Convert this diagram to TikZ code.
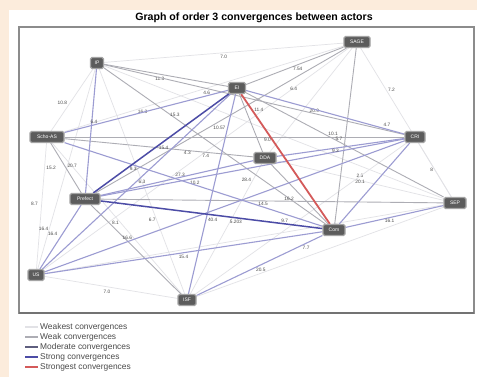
\documentclass[tikz,border=0pt]{standalone}
\usepackage{fontspec}
\setmainfont{Liberation Sans}
\definecolor{peach}{HTML}{FCECDC}
\definecolor{cweakest}{HTML}{E2E2E6}
\definecolor{cweak}{HTML}{ADADB4}
\definecolor{cmod}{HTML}{9C9CD2}
\definecolor{cstrong}{HTML}{4C4CA6}
\definecolor{cred}{HTML}{D45A5A}
\definecolor{nodefill}{HTML}{5C5C5C}
\definecolor{nodeedge}{HTML}{A4A4A4}
\definecolor{lbltext}{HTML}{4A4A4A}
\pgfdeclarelayer{back}
\pgfdeclarelayer{edges}
\pgfsetlayers{back,edges,main}
\tikzset{
  actor/.style={draw=nodeedge, line width=1.1pt, fill=nodefill, rounded corners=1.5pt,
    text=white, font=\fontsize{5}{5}\selectfont, minimum height=11pt, inner sep=1pt},
  weakest/.style={draw=cweakest, line width=0.7pt},
  weak/.style={draw=cweak, line width=0.9pt},
  moderate/.style={draw=cmod, line width=1.1pt},
  strong/.style={draw=cstrong, line width=1.5pt},
  strongest/.style={draw=cred, line width=1.8pt},
  lbl/.style={font=\fontsize{4.8}{5}\selectfont, text=lbltext, inner sep=0.6pt},
  legtext/.style={font=\fontsize{8.4}{9}\selectfont, text=lbltext, anchor=west, inner sep=0pt},
  legline/.style={line width=1.8pt},
}
\begin{document}
\begin{tikzpicture}[x=1pt,y=-1pt]
\useasboundingbox (0,0) rectangle (477,377);
\begin{pgfonlayer}{back}
\fill[peach] (0,0) rectangle (477,377);
\fill[white] (9,10) rectangle (477,377);
\draw[draw=black!45, line width=1.3pt] (19,27) rectangle (474,313);
\draw[draw=black!55, line width=1.2pt] (19,313) -- (474,313);
\end{pgfonlayer}

\node[font=\bfseries\fontsize{10.6}{11}\selectfont, inner sep=0pt] (title) at (254,18) {Graph of order 3 convergences between actors};

% actors
\node[actor, minimum width=13pt] (n1) at (97,63) {IP};
\node[actor, minimum width=17pt] (n2) at (237,88) {EI};
\node[actor, minimum width=26pt] (n3) at (357,42) {SAGE};
\node[actor, minimum width=34pt] (n4) at (47,137) {Scho-AS};
\node[actor, minimum width=20pt] (n5) at (415,137) {CRI};
\node[actor, minimum width=22pt] (n6) at (265,158) {DDA};
\node[actor, minimum width=30pt] (n7) at (85,199) {Prefect};
\node[actor, minimum width=22pt] (n8) at (455,203) {SEP};
\node[actor, minimum width=22pt] (n9) at (334,230) {Com};
\node[actor, minimum width=16pt] (n10) at (36,275) {US};
\node[actor, minimum width=18pt] (n11) at (187,300) {ISF};

\begin{pgfonlayer}{edges}
% weakest
\draw[weakest] (n1) -- node[lbl, pos=.5, below=1pt]{7.0} (n3);
\draw[weakest] (n1) -- node[lbl, pos=.55, left=2pt]{10.8} (n4);
\draw[weakest] (n4) -- node[lbl, pos=.2, right=1pt]{15.2} node[lbl, pos=.48, left=3pt]{8.7} (n10);
\draw[weakest] (n10) -- node[lbl, pos=.47, below=2pt]{7.0} (n11);
\draw[weakest] (n3) -- node[lbl, pos=.28, right=1pt]{7.2} (n8);
\draw[weakest] (n5) -- node[lbl, pos=.5, left=1pt]{8} (n8);
\draw[weakest] (n1) -- node[lbl, pos=.8, left=0pt]{16.4} (n10);
\draw[weakest] (n4) -- node[lbl, pos=.28, below=2pt]{16.3} (n3);
\draw[weakest] (n10) -- node[lbl, pos=.53, below=1pt]{7.4} (n3);
\draw[weakest] (n1) -- node[lbl, pos=.67, left=0pt]{6.7} (n11);
\draw[weakest] (n6) -- node[lbl, pos=.12, left=1pt]{28.4} (n11);
\draw[weakest] (n6) -- node[lbl, pos=.5, above=2pt]{2.3} node[lbl, pos=.5, above=-4pt]{20.1} (n8);
\draw[weakest] (n4) -- (n11);
\draw[weakest] (n11) -- (n8);
\draw[weakest] (n10) -- (n8);
\draw[weakest] (n3) -- (n6);
\draw[weakest] (n1) -- (n8);
\draw[weakest] (n11) -- (n5);
% weak
\draw[weak] (n1) -- node[lbl, pos=.45, below=2pt]{11.3} (n2);
\draw[weak] (n1) -- node[lbl, pos=.32, above=0pt]{15.3} (n9);
\draw[weak] (n2) -- node[lbl, pos=.53, below=1pt]{7.54} (n3);
\draw[weak] (n3) -- node[lbl, pos=.21, below=8pt]{6.4} node[lbl, pos=.85, above=0pt]{9.3} (n7);
\draw[weak] (n1) -- node[lbl, pos=.7, above=0pt]{20.9} (n5);
\draw[weak] (n4) -- node[lbl, pos=.79, above=0pt]{10.1} (n5);
\draw[weak] (n7) -- node[lbl, pos=.55, above=0pt]{16.2} (n8);
\draw[weak] (n7) -- node[lbl, pos=.2, right=2pt]{8.1} (n11);
\draw[weak] (n4) -- node[lbl, pos=.45, right=2pt]{20.7} (n7);
\draw[weak] (n4) -- node[lbl, pos=.65, below=0pt]{4.3} (n6);
\draw[weak] (n2) -- node[lbl, pos=.47, above=0pt]{5.7} (n8);
\draw[weak] (n2) -- (n6);
\draw[weak] (n6) -- (n9);
\draw[weak] (n3) -- (n9);
% moderate
\draw[moderate] (n1) -- (n7);
\draw[moderate] (n2) -- node[lbl, pos=.13, above=0pt]{4.6} node[lbl, pos=.82, above=0pt]{6.4} (n4);
\draw[moderate] (n2) -- node[lbl, pos=.89, above=2pt]{4.7} (n5);
\draw[moderate] (n2) -- node[lbl, pos=.17, left=1pt]{10.57} node[lbl, pos=.63, right=1pt]{40.4} (n11);
\draw[moderate] (n7) -- node[lbl, pos=.31, below=2pt]{10.2} (n5);
\draw[moderate] (n7) -- node[lbl, pos=.52, above=0pt]{27.3} (n6);
\draw[moderate] (n7) -- node[lbl, pos=.45, left=4pt]{16.4} (n10);
\draw[moderate] (n10) -- node[lbl, pos=.5, below=1pt]{15.4} (n9);
\draw[moderate] (n10) -- node[lbl, pos=.23, above=1pt]{16.6} (n5);
\draw[moderate] (n10) -- node[lbl, pos=.5, right=1pt]{6.3} (n2);
\draw[moderate] (n11) -- node[lbl, pos=.51, below=2pt]{20.5} node[lbl, pos=.87, below=2pt]{7.7} (n9);
\draw[moderate] (n9) -- node[lbl, pos=.45, below=0pt]{16.1} (n8);
\draw[moderate] (n9) -- (n5);
\draw[moderate] (n6) -- node[lbl, pos=.46, below=0pt]{9.3} (n5);
\draw[moderate] (n4) -- node[lbl, pos=.77, above=0pt]{14.5} (n9);
% strong
\draw[strong] (n2) -- node[lbl, pos=.54, right=2pt]{15.4} (n7);
\draw[strong] (n7) -- node[lbl, pos=.61, below=1pt]{5.203} node[lbl, pos=.83, above=0pt]{9.7} (n9);
% strongest
\draw[strongest] (n2) -- node[lbl, pos=.12, right=1pt]{11.4} node[lbl, pos=.35, left=0pt]{9.0} (n9);
\end{pgfonlayer}

% legend
\draw[weakest, legline] (25,327) -- (38,327);
\node[legtext] (l1) at (40,327) {Weakest convergences};
\draw[weak, legline] (25,337) -- (38,337);
\node[legtext] (l2) at (40,337) {Weak convergences};
\draw[draw=cmod!60!black, legline] (25,347) -- (38,347);
\node[legtext] (l3) at (40,347) {Moderate convergences};
\draw[strong, legline] (25,357) -- (38,357);
\node[legtext] (l4) at (40,357) {Strong convergences};
\draw[strongest, legline] (25,367) -- (38,367);
\node[legtext] (l5) at (40,367) {Strongest convergences};
\end{tikzpicture}
\end{document}
